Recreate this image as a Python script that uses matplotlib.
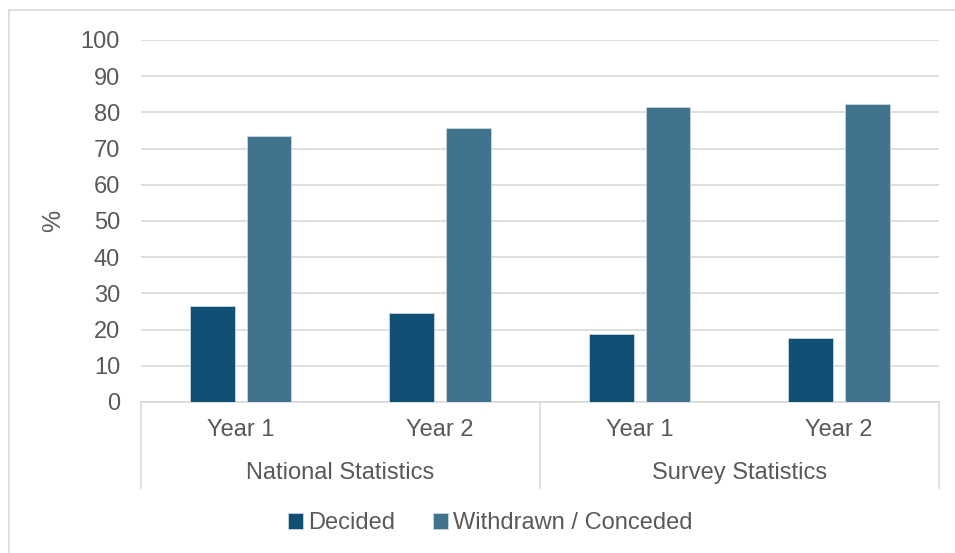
import matplotlib
matplotlib.use('Agg')
import matplotlib.pyplot as plt
from matplotlib.patches import Rectangle
import numpy as np

# data
groups = ['National Statistics', 'Survey Statistics']
years = ['Year 1', 'Year 2', 'Year 1', 'Year 2']
decided = [26.5, 24.5, 18.7, 17.8]
withdrawn = [73.6, 75.6, 81.5, 82.3]
series_names = ['Decided', 'Withdrawn / Conceded']
colors = ['#124F74', '#41738F']

plt.rcParams['font.family'] = ['Liberation Sans', 'DejaVu Sans']
text_color = '#595959'
grid_color = '#D9D9D9'
fs = 17

fig = plt.figure(figsize=(9.55, 5.53), dpi=100)
ax = fig.add_axes([0.1476, 0.2731, 0.8356, 0.6546])

x = np.arange(len(years))
width = 0.225
offset = 0.142
ax.bar(x - offset, decided, width, color=colors[0], edgecolor='#C9D6DF',
       linewidth=0.6, label=series_names[0], zorder=3)
ax.bar(x + offset, withdrawn, width, color=colors[1], edgecolor='#C9D6DF',
       linewidth=0.6, label=series_names[1], zorder=3)

ax.set_xlim(-0.5, len(years) - 0.5)
ax.set_ylim(0, 100)
ax.set_yticks(np.arange(0, 101, 10))
ax.yaxis.grid(True, color=grid_color, linewidth=1.2, zorder=0)
ax.tick_params(axis='y', length=0, pad=15, labelsize=fs, labelcolor=text_color)

for side in ['top', 'right', 'left']:
    ax.spines[side].set_visible(False)
ax.spines['bottom'].set_color(grid_color)
ax.spines['bottom'].set_linewidth(1.2)

ax.set_xticks([])
ax.set_ylabel('%', fontsize=18, color=text_color)
ax.yaxis.set_label_coords(-0.095, 0.5)

# category labels below the axis
trans = ax.get_xaxis_transform()
for xi, lab in zip(x, years):
    ax.text(xi, -0.077, lab, transform=trans, ha='center', va='center',
            fontsize=fs, color=text_color)
for gi, g in enumerate(groups):
    ax.text(gi * 2 + 0.5, -0.196, g, transform=trans, ha='center', va='center',
            fontsize=fs, color=text_color)
for xs in [-0.5, 1.5, 3.5]:
    ax.plot([xs, xs], [0, -0.238], transform=trans, color=grid_color,
            linewidth=1.2, clip_on=False)

fig.legend(loc='center', bbox_to_anchor=(0.513, 0.054), ncol=2, frameon=False,
           fontsize=fs, handlelength=0.65, handleheight=0.65, handletextpad=0.2,
           columnspacing=1.6, labelcolor=text_color)

# outer chart frame
fig.patches.append(Rectangle((0.009, -0.1), 1.1, 1.082, transform=fig.transFigure,
                             fill=False, edgecolor=grid_color, linewidth=1.2))

plt.savefig('out.png', dpi=100)
plt.close()
